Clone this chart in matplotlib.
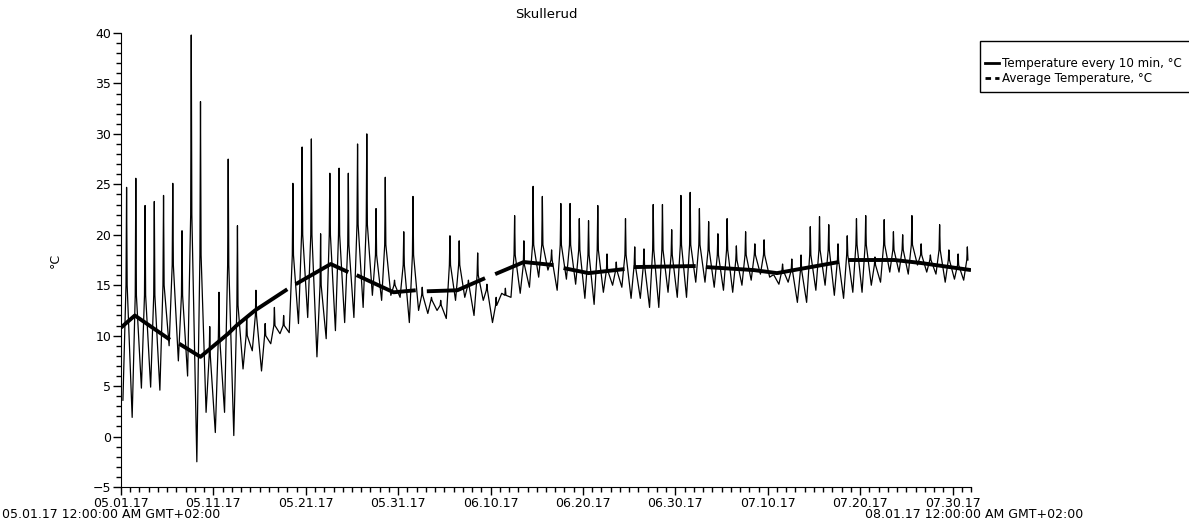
import matplotlib
matplotlib.use("Agg")
import matplotlib.pyplot as plt
import matplotlib.dates as mdates
from matplotlib.lines import Line2D
from matplotlib.patches import Rectangle
import numpy as np
import pandas as pd

start = pd.Timestamp("2017-05-01")

# daily readings of the 10-min sensor, May 1 .. Jul 31
night_low = [3.6, 1.9, 4.8, 4.9, 4.6, 9.0, 7.5, 6.0, -2.5, 2.4,
             0.4, 2.4, 0.1, 6.7, 8.5, 6.5, 9.2, 10.2, 10.3, 11.2,
             11.8, 7.9, 9.7, 10.5, 11.3, 11.8, 12.8, 14.0, 13.5, 14.0,
             13.8, 11.3, 12.5, 12.2, 12.5, 11.7, 13.5, 13.8, 12.0, 13.5,
             11.3, 14.2, 13.8, 14.2, 14.8, 15.8, 16.5, 14.5, 15.6, 15.1,
             13.7, 13.1, 14.3, 15.0, 14.8, 13.7, 13.7, 12.8, 12.8, 14.3,
             13.8, 13.8, 15.3, 15.3, 14.8, 14.5, 14.3, 15.0, 15.5, 16.1,
             15.8, 15.1, 15.3, 13.3, 13.3, 14.5, 15.0, 14.0, 13.7, 14.3,
             14.3, 15.0, 15.3, 16.3, 16.3, 16.1, 17.0, 16.3, 16.1, 15.3,
             15.6, 15.5]
day_level = [15, 14, 14, 14, 15, 17, 14, 22, 18, 8,
             10, 17, 13, 10, 12, 10, 11, 11, 18, 20,
             20, 15, 20, 20, 19, 21, 21, 18, 19, 15,
             17, 18, 14, 13.5, 13, 17, 17, 15, 16, 14.5,
             13, 14, 18, 17, 19, 19, 17.5, 19, 19, 18.5,
             18, 18.5, 16.5, 16.5, 18, 17, 17, 18.5, 18.5, 18,
             19, 19, 19, 18.5, 18, 18.5, 17.5, 18, 18, 18,
             16, 16.5, 16.5, 16.5, 18, 18.5, 18.5, 17.5, 18, 19,
             19, 17, 19, 18.5, 18.5, 19, 18, 17.5, 18.5, 17.5,
             17, 17.5]
day_peak = [24.7, 25.6, 22.9, 23.3, 23.9, 25.1, 20.4, 39.8, 33.2, 10.9,
            14.3, 27.5, 20.9, 11.8, 14.5, 11.2, 12.8, 12.0, 25.1, 28.7,
            29.5, 20.1, 26.1, 26.6, 26.1, 29.0, 30.0, 22.6, 25.7, 15.5,
            20.3, 23.8, 14.8, 13.8, 13.5, 19.9, 19.4, 15.5, 18.2, 15.1,
            13.8, 14.7, 21.9, 19.4, 24.8, 23.8, 18.5, 23.1, 23.1, 21.6,
            21.4, 22.9, 18.1, 17.3, 21.6, 18.8, 18.6, 23.0, 23.0, 20.5,
            23.9, 24.2, 22.6, 21.3, 20.1, 21.6, 18.9, 20.3, 19.1, 19.5,
            16.0, 17.1, 17.6, 18.0, 20.8, 21.8, 21.0, 19.1, 19.9, 21.6,
            21.9, 17.8, 21.5, 20.3, 20.0, 21.9, 19.1, 18.0, 21.0, 18.5,
            18.1, 18.8]

# hours of the day for the low, the afternoon level, the peak, after the peak
hours = [5.0, 13.0, 14.5, 16.0]

# daily average, days since May 1 (NaN = missing)
avg_day = [0.0, 1.5, 5.3, np.nan, 6.3, 8.6, 11.6, 12.5, 14.5, 18.0, np.nan,
           18.9, 22.7, 24.6, np.nan, 25.5, 29.5, 31.9, np.nan,
           33.1, 36.4, 39.4, np.nan, 40.5, 43.6, 46.8, np.nan,
           47.9, 50.6, 54.5, np.nan, 55.5, 62.2, np.nan,
           63.3, 68.5, 71.0, 77.7, np.nan, 78.7, 83.7, 86.6, 92.0]
avg_val = [10.8, 12.0, 9.6, np.nan, 9.2, 7.9, 10.2, 11.0, 12.5, 14.6, np.nan,
           15.1, 17.1, 16.3, np.nan, 16.0, 14.3, 14.5, np.nan,
           14.4, 14.5, 15.7, np.nan, 16.1, 17.3, 17.0, np.nan,
           16.7, 16.2, 16.6, np.nan, 16.8, 16.9, np.nan,
           16.8, 16.5, 16.2, 17.3, np.nan, 17.5, 17.5, 17.2, 16.5]

t10, v10 = [], []
for d in range(len(night_low)):
    vals = [night_low[d], day_level[d], day_peak[d], day_level[d]]
    for h, v in zip(hours, vals):
        t10.append(start + pd.Timedelta(days=d, hours=h))
        v10.append(v)

avg_t = [mdates.date2num(start + pd.Timedelta(days=d)) if not np.isnan(d) else np.nan
         for d in avg_day]

W, H = 1189, 521
fig = plt.figure(figsize=(W / 100, H / 100), dpi=100)
ax = fig.add_axes([121 / W, 1 - 487 / H, 850 / W, 454 / H])

ax.plot(t10, v10, color="black", lw=0.9)
ax.plot(avg_t, avg_val, color="black", lw=2.8, solid_capstyle="butt")

ax.set_xlim(start, pd.Timestamp("2017-08-01"))
ax.set_ylim(-5, 40)

major = pd.date_range("2017-05-01", "2017-07-30", freq="10D")
ax.set_xticks(mdates.date2num(major))
ax.set_xticks(mdates.date2num(pd.date_range("2017-05-01", "2017-08-01", freq="D")), minor=True)
ax.xaxis.set_major_formatter(mdates.DateFormatter("%m.%d.%y"))
ax.set_yticks(np.arange(-5, 41, 5))
ax.set_yticks(np.arange(-5, 41, 1), minor=True)

for s in ["top", "right"]:
    ax.spines[s].set_visible(False)
ax.tick_params(which="major", length=6, width=1, labelsize=9, colors="black", pad=1)
ax.tick_params(which="minor", length=3.5, width=1)
ax.set_ylabel("°C", fontsize=9, labelpad=22)

fig.text(546 / W, 1 - 15 / H, "Skullerud", ha="center", va="center", fontsize=9.5)
fig.text(2 / W, 1 - 514 / H, "05.01.17 12:00:00 AM GMT+02:00", ha="left", va="center", fontsize=9)
fig.text(1083 / W, 1 - 514 / H, "08.01.17 12:00:00 AM GMT+02:00", ha="right", va="center", fontsize=9)

# legend box runs past the right edge of the figure
fig.patches.append(Rectangle((980 / W, 1 - 92 / H), 230 / W, 51 / H,
                             transform=fig.transFigure, facecolor="white",
                             edgecolor="black", lw=1, zorder=5))
handles = [Line2D([], [], color="black", lw=2),
           Line2D([], [], color="black", lw=2, ls=(0, (2, 1.5)))]
leg = fig.legend(handles, ["Temperature every 10 min, °C", "Average Temperature, °C"],
                 loc="upper left", bbox_to_anchor=(985 / W, 1 - 57 / H),
                 frameon=False, borderaxespad=0, borderpad=0,
                 handlelength=1.2, handletextpad=0.2,
                 fontsize=8.6, labelspacing=0.2)
leg.set_zorder(6)

fig.savefig("out.png", dpi=100)
